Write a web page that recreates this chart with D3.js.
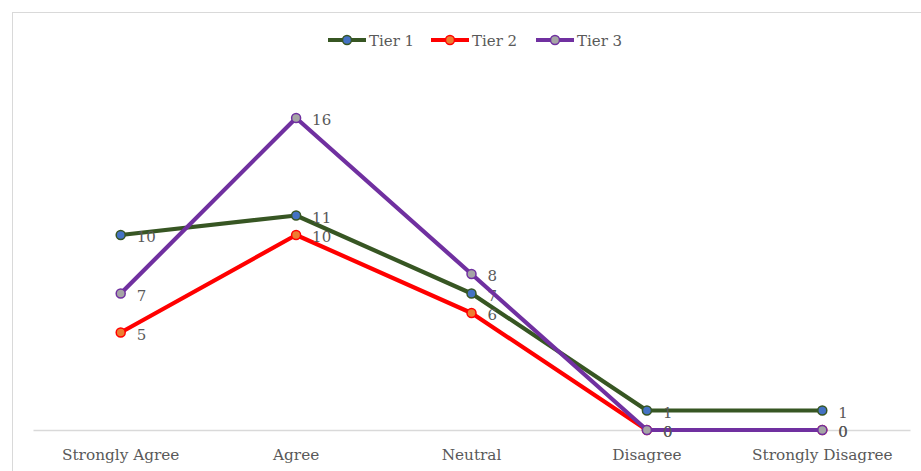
<!DOCTYPE html>
<html><head><meta charset="utf-8">
<script src="https://cdn.jsdelivr.net/npm/d3@7"></script>
<style>body{margin:0;background:#fff}svg{display:block}</style>
</head><body>
<svg id="c" width="921" height="471"></svg>
<script>
const categories = ["Strongly Agree","Agree","Neutral","Disagree","Strongly Disagree"];
const tier1 = [10,11,7,1,1];
const tier2 = [5,10,6,0,0];
const tier3 = [7,16,8,0,0];
const seriesNames = ["Tier 1","Tier 2","Tier 3"];
const lineColors = ["#375623","#ff0000","#7030a0"];
const markerFills = ["#4472c4","#ed7d31","#a5a5a5"];
const seriesValues = [tier1, tier2, tier3];

const FONT = "'DejaVu Serif', serif";
const TXT = "#595959";
const svg = d3.select("#c");
svg.append("rect").attr("x",12.5).attr("y",12.5).attr("width",930).attr("height",480)
  .attr("fill","#fff").attr("stroke","#d9d9d9").attr("stroke-width",1);

const x = d3.scaleBand().domain(categories).range([33,910]);
const y = d3.scaleLinear().domain([0,18]).range([430,79]);

const axis = svg.append("g").attr("transform","translate(0,430)")
  .call(d3.axisBottom(x).tickSize(0).tickPadding(19));
axis.select(".domain").attr("stroke","#d9d9d9").attr("stroke-width",1.5);
axis.selectAll("text").attr("font-family",FONT).attr("font-size",15.3).attr("fill",TXT);

const line = d3.line().x((d,i)=>x(categories[i])+x.bandwidth()/2).y(d=>y(d));
seriesValues.forEach((vals,s)=>{
  const g = svg.append("g");
  g.append("path").datum(vals).attr("d",line).attr("fill","none")
    .attr("stroke",lineColors[s]).attr("stroke-width",4.2).attr("stroke-linejoin","round");
  g.selectAll("circle").data(vals).join("circle")
    .attr("cx",(d,i)=>x(categories[i])+x.bandwidth()/2).attr("cy",d=>y(d)).attr("r",4.5)
    .attr("fill",markerFills[s]).attr("stroke",lineColors[s]).attr("stroke-width",1.5);
  g.selectAll("text").data(vals).join("text")
    .attr("x",(d,i)=>x(categories[i])+x.bandwidth()/2+16).attr("y",d=>y(d)+7)
    .attr("font-family",FONT).attr("font-size",15).attr("fill",TXT).text(d=>d);
});

// legend
const legendX = [328,431,536];
seriesNames.forEach((n,s)=>{
  const g = svg.append("g").attr("transform",`translate(${legendX[s]},40)`);
  g.append("line").attr("x1",0).attr("x2",38).attr("y1",0).attr("y2",0)
    .attr("stroke",lineColors[s]).attr("stroke-width",4.2);
  g.append("circle").attr("cx",19).attr("cy",0).attr("r",4.5)
    .attr("fill",markerFills[s]).attr("stroke",lineColors[s]).attr("stroke-width",1.5);
  g.append("text").attr("x",41).attr("y",5.5).attr("font-family",FONT).attr("font-size",15)
    .attr("fill",TXT).text(n);
});
</script>
</body></html>
